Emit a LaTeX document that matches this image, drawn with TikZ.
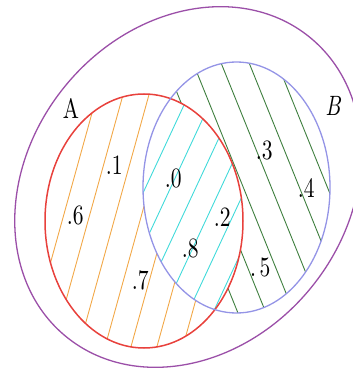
\documentclass[tikz,border=0pt]{standalone}
\usepackage{fontspec}
\setmainfont{lmroman10-regular}[Extension=.otf, ItalicFont=lmroman10-italic]
\usepackage{tikz}
\usetikzlibrary{calc}
\definecolor{outerPurple}{HTML}{9B4FA8}
\definecolor{setRed}{HTML}{E8413C}
\definecolor{setBlue}{HTML}{9494E6}
\definecolor{hatchOrange}{HTML}{F2A848}
\definecolor{hatchCyan}{HTML}{40DADA}
\definecolor{hatchGreen}{HTML}{3F7F3F}

\begin{document}
\begin{tikzpicture}[x=1pt, y=1pt,
    every node/.style={inner sep=0pt, font=\fontsize{28}{28}\selectfont, xscale=0.77, transform shape},
    hatch/.style={line width=0.9pt}]
  \useasboundingbox (0,0) rectangle (353,370);
  % A minus B
  \begin{scope}[even odd rule]
    \clip (144,149) ellipse [x radius=99, y radius=127];
    \clip (236.5,182.5) ellipse [x radius=93.5, y radius=125.5] (-10,-10) rectangle (370,380);
    \foreach \c in {-20,-45,...,-195} \draw[hatch, hatchOrange, shift={(164.5:\c)}] (74.5:-400) -- (74.5:400);
  \end{scope}
  % B minus A
  \begin{scope}[even odd rule]
    \clip (236.5,182.5) ellipse [x radius=93.5, y radius=125.5];
    \clip (144,149) ellipse [x radius=99, y radius=127] (-10,-10) rectangle (370,380);
    \foreach \c in {242,268,...,372} \draw[hatch, hatchGreen, shift={(22:\c)}] (-68:-400) -- (-68:400);
  \end{scope}
  % A and B
  \begin{scope}
    \clip (144,149) ellipse [x radius=99, y radius=127];
    \clip (236.5,182.5) ellipse [x radius=93.5, y radius=125.5];
    \foreach \c in {-32,-54.8,...,-175} \draw[hatch, hatchCyan, shift={(155:\c)}] (65:-400) -- (65:400);
  \end{scope}
  \draw[outerPurple, line width=1.3pt, rotate around={51:(188,183)}] (188,183) ellipse [x radius=193, y radius=159];
  \draw[setRed, line width=1.5pt] (144,149) ellipse [x radius=99, y radius=127];
  \draw[setBlue, line width=1.3pt] (236.5,182.5) ellipse [x radius=93.5, y radius=125.5];
  \node (labelA) at (71,262) {A};
  \node (labelB) at (333,264) {\itshape B};
  \node (p0) at (173.2,192) {.0};
  \node (p1) at (114.2,205) {.1};
  \node (p2) at (222.2,153) {.2};
  \node (p3) at (264.2,220) {.3};
  \node (p4) at (306.2,182) {.4};
  \node (p5) at (260.2,103) {.\,5};
  \node (p6) at (75.2,155) {.6};
  \node (p7) at (140.2,90) {.7};
  \node (p8) at (190.2,122) {.8};
\end{tikzpicture}
\end{document}
